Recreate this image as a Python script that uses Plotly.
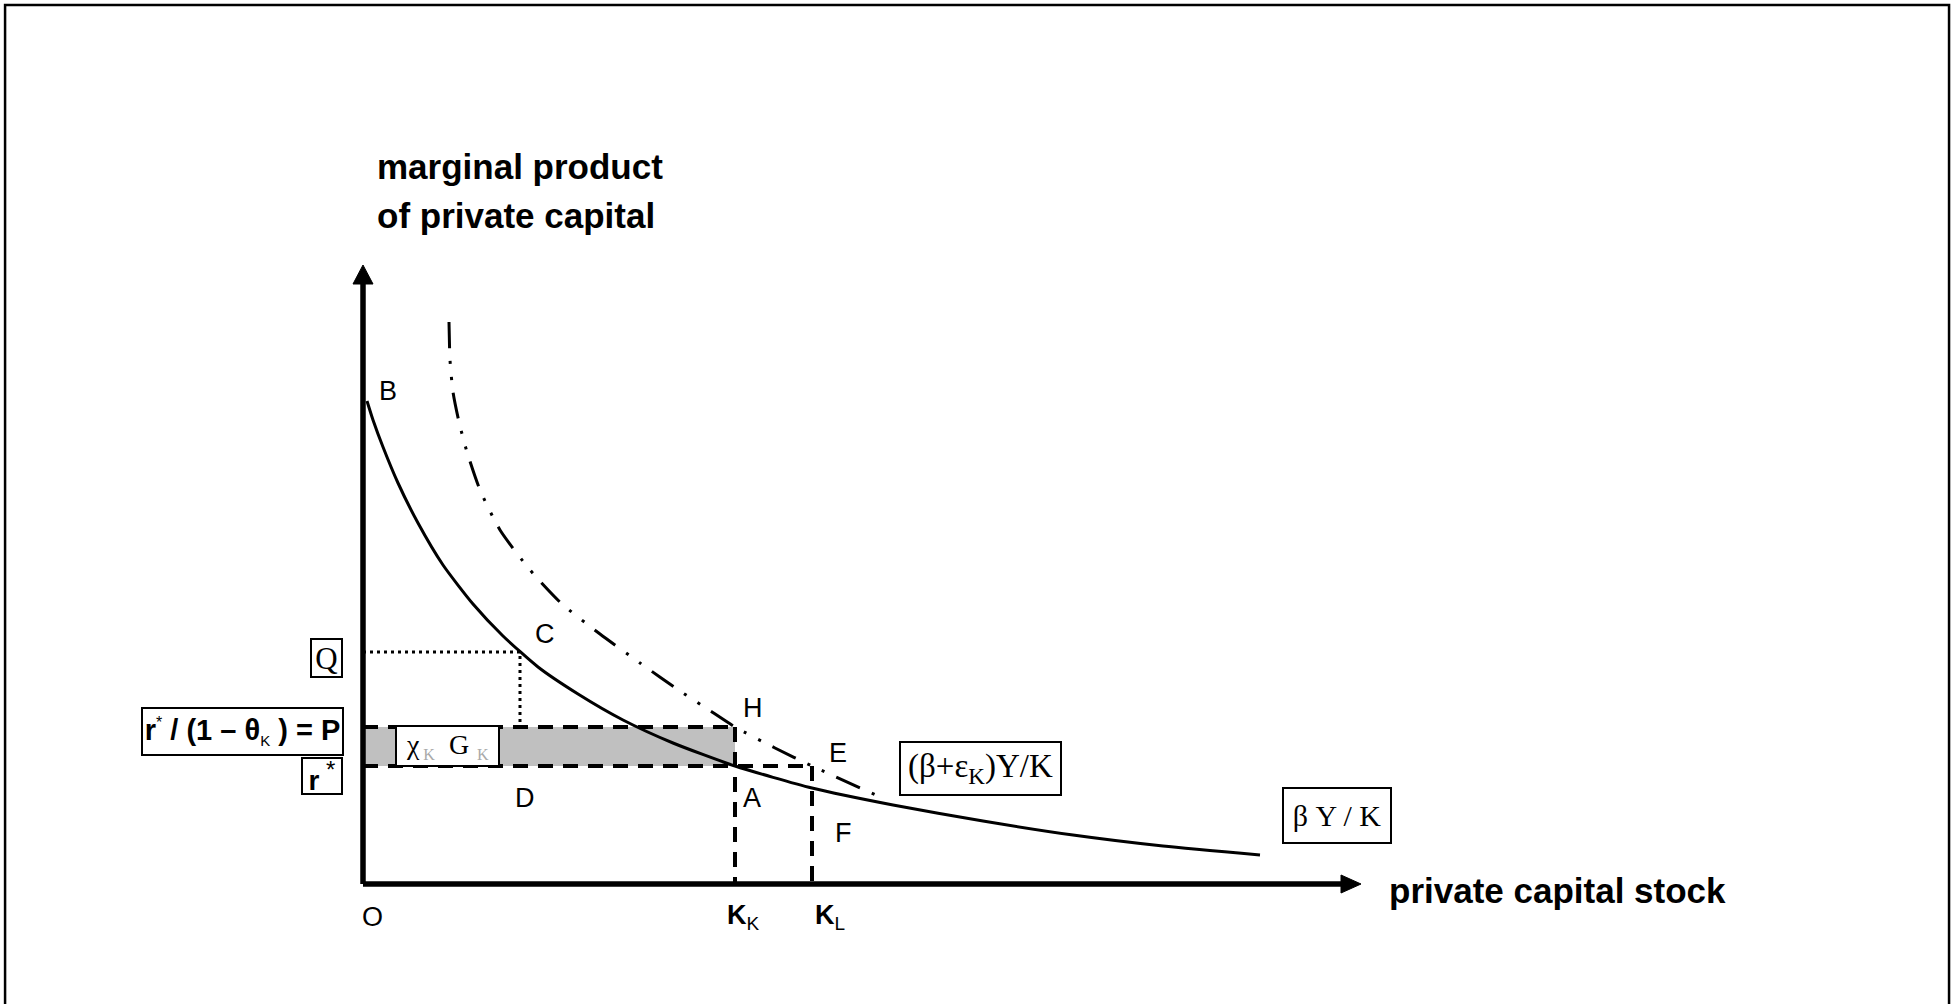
import plotly.graph_objects as go

# ---------------- data (x: private capital stock K, y: marginal product) ----------------
K_K = 3.72          # K_K on the capital axis
K_L = 4.49          # K_L on the capital axis
r_star = 1.18       # r*
P_level = 1.57      # r*/(1-theta_K) = P
Q_level = 2.32      # Q
Q_K = 1.57          # capital stock at the Q corner

# beta Y/K  (solid curve)
beta_K = [0.04, 0.10, 0.20, 0.35, 0.55, 0.80, 1.10, 1.40, 1.75, 2.15, 2.60,
          3.10, 3.72, 4.49, 5.30, 6.20, 7.10, 8.00, 8.97]
beta_MP = [4.83, 4.64, 4.37, 4.01, 3.61, 3.19, 2.80, 2.48, 2.17, 1.90, 1.64,
           1.41, 1.18, 0.96, 0.79, 0.63, 0.49, 0.38, 0.29]

# (beta+eps_K) Y/K  (dash-dot-dot curve)
beps_K = [0.86, 0.87, 0.90, 0.96, 1.04, 1.17, 1.37, 1.67, 1.99, 2.37, 2.77, 3.17,
          3.49, 3.72, 4.12, 4.49, 5.15]
beps_MP = [5.62, 5.24, 4.92, 4.62, 4.32, 3.94, 3.54, 3.14, 2.80, 2.50, 2.21, 1.93,
           1.72, 1.57, 1.36, 1.18, 0.88]

x_axis_end = 9.98
y_axis_end = 6.19

point_labels = ["B", "C", "H", "E", "A", "F", "D", "O"]
point_x = [0.25, 1.82, 3.90, 4.75, 3.89, 4.80, 1.62, 0.09]
point_y = [4.93, 2.50, 1.76, 1.31, 0.86, 0.51, 0.86, -0.33]

# ----------------------------------------------------------------------------------------
SANS = "Liberation Sans, Arial, sans-serif"
SERIF = "Liberation Serif, Times New Roman, serif"

fig = go.Figure()

# shaded band chi_K G_K
fig.add_trace(go.Scatter(
    x=[0, K_K, K_K, 0, 0], y=[r_star, r_star, P_level, P_level, r_star],
    fill="toself", fillcolor="#c0c0c0", line=dict(width=0), mode="lines",
    hoverinfo="skip"))

dash_style = dict(color="black", width=4, dash="15px,10px")
fig.add_trace(go.Scatter(x=[0, K_K], y=[P_level, P_level], mode="lines", line=dash_style))
fig.add_trace(go.Scatter(x=[0, K_L], y=[r_star, r_star], mode="lines", line=dash_style))
fig.add_trace(go.Scatter(x=[K_K, K_K], y=[P_level, 0], mode="lines", line=dash_style))
fig.add_trace(go.Scatter(x=[K_L, K_L], y=[r_star, 0], mode="lines", line=dash_style))

# dotted Q lines
dot_style = dict(color="black", width=3, dash="3px,4px")
fig.add_trace(go.Scatter(x=[0, Q_K, Q_K], y=[Q_level, Q_level, P_level], mode="lines",
                         line=dot_style))

# curves
fig.add_trace(go.Scatter(x=beta_K, y=beta_MP, mode="lines",
                         line=dict(color="black", width=3, shape="spline", smoothing=0.6)))
fig.add_trace(go.Scatter(x=beps_K, y=beps_MP, mode="lines",
                         line=dict(color="black", width=3, shape="spline", smoothing=0.6,
                                   dash="26px,13px,3px,13px,3px,13px")))

# axes
axis_line = dict(color="black", width=5.5)
fig.add_trace(go.Scatter(x=[0, 0], y=[0, y_axis_end - 0.15], mode="lines", line=axis_line))
fig.add_trace(go.Scatter(x=[0, x_axis_end - 0.15], y=[0, 0], mode="lines", line=axis_line))
fig.add_trace(go.Scatter(x=[-0.10, 0.10, 0, -0.10],
                         y=[y_axis_end - 0.19, y_axis_end - 0.19, y_axis_end, y_axis_end - 0.19],
                         fill="toself", fillcolor="black", mode="lines",
                         line=dict(color="black", width=1)))
fig.add_trace(go.Scatter(x=[x_axis_end - 0.20, x_axis_end - 0.20, x_axis_end, x_axis_end - 0.20],
                         y=[-0.09, 0.09, 0, -0.09],
                         fill="toself", fillcolor="black", mode="lines",
                         line=dict(color="black", width=1)))

ann = []
for t, x, y in zip(point_labels, point_x, point_y):
    ann.append(dict(x=x, y=y, text=t, showarrow=False, xanchor="center", yanchor="middle",
                    font=dict(family=SANS, size=27, color="black")))
ann.append(dict(x=3.62, y=-0.33, text="<b>K</b><sub><span style='font-size:19px'>K</span></sub>",
                showarrow=False, xanchor="left", yanchor="middle",
                font=dict(family=SANS, size=27, color="black")))
ann.append(dict(x=4.50, y=-0.33, text="<b>K</b><sub><span style='font-size:19px'>L</span></sub>",
                showarrow=False, xanchor="left", yanchor="middle",
                font=dict(family=SANS, size=27, color="black")))

# axis titles
ann.append(dict(x=0.12, y=7.18, text="<b>marginal product</b>", showarrow=False,
                xanchor="left", yanchor="middle", font=dict(family=SANS, size=35, color="black")))
ann.append(dict(x=0.12, y=6.69, text="<b>of private capital</b>", showarrow=False,
                xanchor="left", yanchor="middle", font=dict(family=SANS, size=35, color="black")))
ann.append(dict(x=10.24, y=-0.06, text="<b>private capital stock</b>", showarrow=False,
                xanchor="left", yanchor="middle", font=dict(family=SANS, size=35, color="black")))

def box(x, y, text, w, h, family, size):
    return dict(x=x, y=y, text=text, showarrow=False, xanchor="center", yanchor="middle",
                width=w, height=h, bgcolor="white", bordercolor="black", borderwidth=2,
                borderpad=0, align="center", valign="middle",
                font=dict(family=family, size=size, color="black"))

ann.append(box(-0.365, 2.26, "Q", 29, 36, SERIF, 31))
ann.append(box(-1.21, 1.525,
               "<b>r</b><sup><span style='font-size:16px'>*</span></sup><b> / (1 – θ</b>"
               "<sub><span style='font-size:15px'>K</span></sub><b> ) = P</b>",
               199, 45, SANS, 29))
ann.append(box(-0.41, 1.08, "<b>r</b><sup><span style='font-size:24px'> *</span></sup>",
               38, 34, SANS, 28))
ann.append(box(0.845, 1.38,
               "χ<sub><span style='font-size:16px;color:#aaaaaa'> K</span></sub>  G"
               "<sub><span style='font-size:16px;color:#aaaaaa'>  K</span></sub>",
               101, 38, SERIF, 28))
ann.append(box(6.175, 1.155, "(β+ε<sub>K</sub>)Y/K", 159, 51, SERIF, 33))
ann.append(box(9.74, 0.685, "β Y / K", 106, 53, SERIF, 30))

fig.update_layout(
    width=1951, height=1004,
    margin=dict(l=0, r=0, t=0, b=0),
    paper_bgcolor="white", plot_bgcolor="white",
    showlegend=False,
    xaxis=dict(range=[-3.63, 15.88], visible=False, fixedrange=True),
    yaxis=dict(range=[-1.20, 8.84], visible=False, fixedrange=True),
    annotations=ann,
    shapes=[dict(type="path", xref="paper", yref="paper",
                 path="M 0.0026,0 L 0.0026,0.995 L 0.999,0.995 L 0.999,0",
                 line=dict(color="black", width=2.5))],
)

fig.write_html("out.html", config={"displayModeBar": False},
               post_script="document.body.style.margin='0px';")
